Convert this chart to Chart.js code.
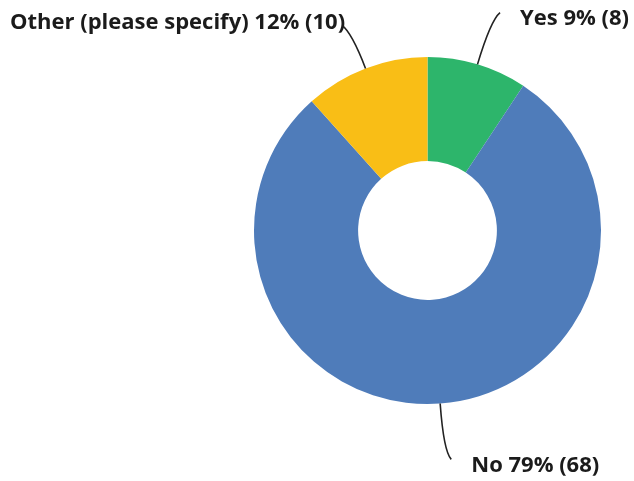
<!DOCTYPE html>
<html>
<head>
<meta charset="utf-8">
<script src="https://cdn.jsdelivr.net/npm/chart.js@4"></script>
<style>
  html, body { margin: 0; padding: 0; background: #fff; }
  #wrap { width: 634px; height: 481px; position: relative; }
</style>
</head>
<body>
<div id="wrap"><canvas id="myChart"></canvas></div>
<script>
'use strict';

// survey answers
var categories = ['Yes', 'No', 'Other (please specify)'];
var counts = [8, 68, 10];
var colors = ['#2db56b', '#4f7cba', '#f9be16'];

var total = counts.reduce(function (a, b) { return a + b; }, 0);

// leader line + label for every slice
var sliceLabels = {
    id: 'sliceLabels',
    afterDatasetsDraw: function (chart, args, opts) {
        var ctx = chart.ctx;
        var meta = chart.getDatasetMeta(0);
        ctx.save();
        ctx.font = 'bold 22px "Open Sans"';
        ctx.fillStyle = '#1b1b1b';
        ctx.strokeStyle = '#222';
        ctx.lineWidth = 1.6;
        ctx.textBaseline = 'middle';
        meta.data.forEach(function (arc, i) {
            var p = arc.getProps(['x', 'y', 'startAngle', 'endAngle', 'outerRadius'], true);
            var mid = (p.startAngle + p.endAngle) / 2;
            var r0 = p.outerRadius;
            var r1 = r0 + opts.lengths[i];
            var cos = Math.cos(mid), sin = Math.sin(mid);
            var side = cos >= 0 ? 1 : -1;
            var sx = p.x + cos * r0, sy = p.y + sin * r0;
            var ex = p.x + cos * r1 + side * 7, ey = p.y + sin * r1;
            var cx = p.x + cos * (r1 - 8), cy = p.y + sin * (r1 - 8);
            ctx.beginPath();
            ctx.moveTo(sx, sy);
            ctx.quadraticCurveTo(cx, cy, ex, ey);
            ctx.stroke();

            var pct = Math.round(counts[i] / total * 100);
            var txt = categories[i] + ' ' + pct + '% (' + counts[i] + ')';
            ctx.textAlign = side > 0 ? 'left' : 'right';
            var gap = side > 0 ? 20 : -3;
            ctx.fillText(txt, ex + side * gap, ey + (side > 0 ? 6 : -3));
        });
        ctx.restore();
    }
};

const ctx = document.getElementById('myChart');

new Chart(ctx, {
    type: 'doughnut',
    data: {
        labels: categories,
        datasets: [{
            data: counts,
            backgroundColor: colors,
            borderWidth: 0
        }]
    },
    options: {
        responsive: true,
        maintainAspectRatio: false,
        animation: false,
        cutout: '40%',
        layout: {
            padding: { left: 254, right: 33, top: 57, bottom: 77 }
        },
        plugins: {
            legend: { display: false },
            tooltip: { enabled: false },
            sliceLabels: { lengths: [54, 56, 46] }
        }
    },
    plugins: [sliceLabels]
});
</script>
</body>
</html>
